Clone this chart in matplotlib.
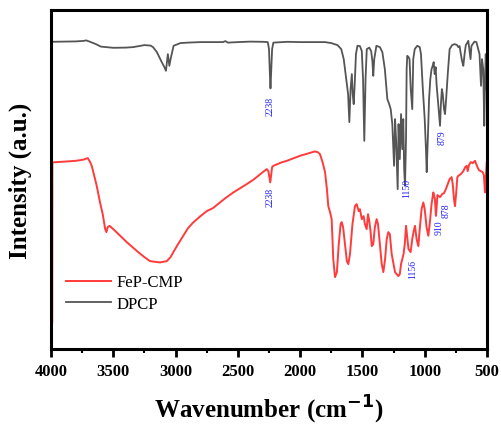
import numpy as np
import matplotlib
matplotlib.use('Agg')
import matplotlib.pyplot as plt
from matplotlib.ticker import MultipleLocator

# ── FTIR spectra (wavenumber, intensity a.u.) ──
dpcp_wn = [4000, 3900, 3800, 3740, 3717, 3690, 3640, 3600, 3500, 3400, 3340, 3250, 3200, 3181,
           3150, 3111, 3090, 3077, 3068, 3062, 3050, 3040, 3016, 2962, 2900, 2800, 2700, 2620,
           2600, 2580, 2500, 2400, 2300, 2260, 2250, 2243, 2238, 2233, 2225, 2215, 2100, 2000,
           1900, 1800, 1750, 1700, 1670, 1650, 1630, 1615, 1605, 1595, 1585, 1578, 1570, 1562,
           1552, 1540, 1520, 1505, 1495, 1485, 1475, 1465, 1445, 1430, 1420, 1413, 1405, 1388,
           1360, 1340, 1320, 1300, 1285, 1273, 1260, 1246, 1238, 1230, 1217, 1210, 1200, 1190,
           1180, 1172, 1165, 1158, 1150, 1145, 1140, 1130, 1122, 1112, 1100, 1092, 1080, 1060,
           1040, 1030, 1015, 1000, 990, 984, 975, 965, 955, 945, 936, 928, 920, 912, 905, 895,
           885, 877, 870, 862, 855, 845, 837, 828, 815, 800, 780, 760, 740, 730, 720, 710, 700,
           690, 680, 670, 660, 650, 640, 632, 625, 615, 600, 585, 570, 560, 548, 540, 530, 522,
           515, 510, 505, 500]
dpcp_y = [42.7, 42.5, 42.3, 41.8, 41.3, 42.5, 45, 47.5, 48.7, 48.5, 48, 46, 46.5, 48,
          53, 63, 68, 71.7, 62, 55, 66.7, 60, 46.7, 44, 43.5, 43, 43, 43,
          42, 43.5, 43, 42.5, 42.7, 43, 50, 75, 89.3, 75, 50, 43.5, 42.7, 43,
          43, 43, 44, 46, 50, 60, 80, 95, 123, 90, 75, 95, 105, 85,
          55, 46.7, 47, 52, 80, 141.7, 80, 50, 48.5, 52, 62, 76.7, 60, 46.7,
          48, 53, 70, 100, 105, 110, 125, 166.7, 120, 140, 190, 125, 160, 115,
          150, 120, 170, 186.7, 140, 70, 56.7, 58, 60, 90, 110, 60, 50, 46.7,
          48, 55, 90, 120, 150, 173, 140, 100, 80, 70, 66.7, 63, 75, 68, 85, 100,
          115, 126.7, 105, 90, 95, 110, 115, 100, 75, 50, 46, 45, 46, 48, 47, 55, 62,
          66.7, 55, 46, 44, 41.7, 52, 60, 47, 45, 42.5, 43, 50, 55, 86.7, 60, 70, 126.7,
          80, 55, 90, 50]

fep_wn = [3990, 3989, 3900, 3800, 3740, 3705, 3690, 3673, 3650, 3633, 3607, 3585, 3565, 3555,
          3545, 3530, 3500, 3450, 3392, 3300, 3250, 3205, 3125, 3071, 3040, 3018, 2980, 2938,
          2900, 2858, 2800, 2750, 2700, 2643, 2600, 2536, 2480, 2429, 2380, 2336, 2300, 2268,
          2255, 2245, 2240, 2235, 2225, 2215, 2150, 2107, 2050, 2001, 1940, 1881, 1860, 1841,
          1820, 1800, 1785, 1774, 1760, 1747, 1734, 1720, 1705, 1690, 1675, 1667, 1655, 1640,
          1625, 1613, 1600, 1580, 1560, 1546, 1530, 1520, 1505, 1490, 1480, 1466, 1455, 1445,
          1435, 1425, 1413, 1400, 1386, 1375, 1360, 1345, 1332, 1318, 1305, 1292, 1280, 1265,
          1250, 1238, 1212, 1200, 1190, 1180, 1170, 1160, 1150, 1140, 1130, 1113, 1100, 1090,
          1078, 1065, 1051, 1040, 1025, 1011, 1000, 985, 971, 960, 945, 931, 925, 918, 910,
          904, 898, 890, 878, 871, 860, 845, 830, 815, 800, 784, 775, 765, 757, 748, 738, 730,
          710, 690, 675, 663, 655, 645, 630, 615, 596, 580, 565, 550, 535, 525, 516, 510, 502]
fep_y = [323, 163.3, 162.5, 161.7, 160.5, 159, 162, 166.7, 178, 186.7, 203, 215, 230, 233,
         228, 226.7, 230, 236, 243, 253, 258, 262, 263.3, 262, 258, 253, 245, 236.7,
         229, 223.3, 217, 212, 209, 203.3, 199, 193.3, 189, 185, 181, 176.7, 173, 170,
         172, 180, 183.3, 178, 168, 166.7, 163.3, 161.7, 159, 156.7, 154.5, 152.3, 153, 155,
         163, 173, 190, 207, 213, 220, 260, 278, 273, 245, 225, 223, 228, 245,
         262, 265, 255, 225, 207, 205, 212, 210, 220, 217, 225, 230, 215, 222,
         232, 247, 245, 228, 220, 225, 245, 265, 273, 260, 240, 233, 235, 255,
         265, 273, 277, 275, 265, 260, 255, 245, 226.7, 238, 250, 253, 240, 233,
         226.7, 240, 247, 230, 210, 203.3, 210, 228, 236.7, 225, 205, 193.3, 196, 200, 216.7,
         208, 196, 196.7, 198, 197, 195, 194, 190, 185, 180, 178, 185, 200, 207, 195, 178, 176.7,
         175, 172, 168, 166.7, 172, 166, 163, 164, 161.7, 167, 171, 172, 173, 176, 193.3, 180, 163]

# peak labels: text, wavenumber, top of text (same units as data, measured from top)
peak_text = ['2238', '2238', '1150', '879', '1156', '910', '878']
peak_wn = [2238, 2238, 1144, 864, 1100, 886, 832]
peak_top = [97, 188, 179, 130, 260, 220, 203]

Y_TOP = 350  # frame used when reading values

plt.rcParams['font.family'] = ['Liberation Serif', 'DejaVu Serif']

fig = plt.figure(figsize=(5.02, 4.27), dpi=100)
ax = fig.add_axes([0.1016, 0.180, 0.8685, 0.794])

ax.plot(fep_wn, Y_TOP - np.array(fep_y), color='#ff3b3b', linewidth=1.4, label='FeP-CMP')
ax.plot(dpcp_wn, Y_TOP - np.array(dpcp_y), color='#555555', linewidth=1.3, label='DPCP')

for t, w, top in zip(peak_text, peak_wn, peak_top):
    ax.text(w, Y_TOP - top, t, rotation=90, ha='center', va='top',
            color='#2020ff', fontsize=7)

ax.set_xlim(4000, 500)
ax.set_ylim(0, 339)
ax.xaxis.set_major_locator(MultipleLocator(500))
ax.xaxis.set_minor_locator(MultipleLocator(250))
ax.set_yticks([])
ax.tick_params(axis='x', which='major', direction='out', length=6, width=2,
               labelsize=12, pad=4)
ax.tick_params(axis='x', which='minor', direction='out', length=3, width=1.5)
for lbl in ax.get_xticklabels():
    lbl.set_fontweight('bold')
for spine in ax.spines.values():
    spine.set_linewidth(2.2)

ax.set_xlabel('Wavenumber (cm$^{\\mathbf{-1}}$)', fontsize=18, fontweight='bold', labelpad=10)
ax.set_ylabel('Intensity (a.u.)', fontsize=18, fontweight='bold', labelpad=14)

ax.legend(loc='upper left', bbox_to_anchor=(0.02, 0.24), frameon=False, fontsize=12,
          handlelength=2.7, handletextpad=0.3, labelspacing=0.35, borderaxespad=0)

fig.savefig('out.png', dpi=100)
